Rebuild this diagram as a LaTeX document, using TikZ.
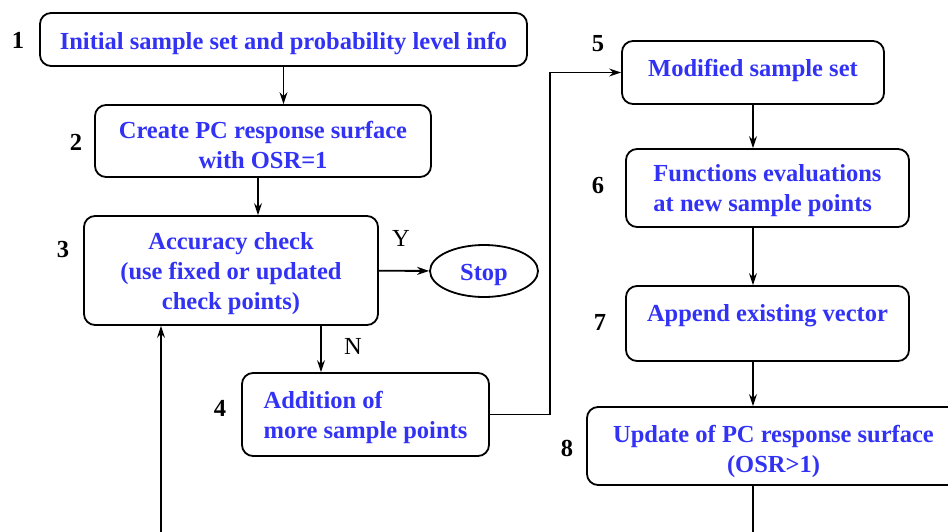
\documentclass[tikz,border=0pt]{standalone}
\usepackage{fontspec}
\setmainfont{Liberation Serif}
\usetikzlibrary{arrows.meta, shapes.geometric}
\definecolor{flowblue}{RGB}{50,50,245}

\begin{document}
\begin{tikzpicture}
    [
        x=1pt, y=-1pt, >={Stealth[length=12pt, width=8pt, inset=4pt]},
        every node/.style={font=\fontsize{24.5}{30}\selectfont},
        blue_box/.style={rectangle, rounded corners=11pt, draw=black, line width=1.8pt, inner sep=0pt, font=\fontsize{24.5}{30}\selectfont\bfseries, text=flowblue, align=center, execute at begin node={\rule{0pt}{25pt}}},
        stop_node/.style={ellipse, draw=black, line width=1.8pt, inner sep=0pt, minimum width=108, minimum height=52, font=\fontsize{24.5}{30}\selectfont\bfseries, text=flowblue, execute at begin node={\rule{0pt}{25pt}}},
        num_label/.style={font=\fontsize{24.5}{30}\selectfont\bfseries},
        flow_line/.style={line width=1.8pt, color=black},
    ]
        \useasboundingbox (0,0) rectangle (948,531);
        \clip (0,0) rectangle (948,531);
        % left column
        \node[blue_box, minimum width=487, minimum height=53] (b1) at (283.5,39.5) {Initial sample set and probability level info} ;
        \node[blue_box, text height=54pt, text depth=0pt, minimum width=336, minimum height=72] (b2) at (263,141) {Create PC response surface\\with OSR=1} ;
        \node[blue_box, text depth=0pt, minimum width=294, minimum height=109] (b3) at (231,270.5) {Accuracy check\\(use fixed or updated\\check points)} ;
        \node[stop_node] (stop) at (484,271) {Stop} ;
        \node[blue_box, align=left, text depth=0pt, minimum width=247, minimum height=83] (b4) at (365.5,414.5) {Addition of\\more sample points} ;
        % right column
        \node[blue_box, text depth=17.5pt, minimum width=262, minimum height=63] (b5) at (753,72.5) {Modified sample set} ;
        \node[blue_box, align=left, text depth=0pt, minimum width=283, minimum height=78] (b6) at (767.5,188) {Functions evaluations\\at new sample points} ;
        \node[blue_box, text depth=29pt, minimum width=283, minimum height=75] (b7) at (767.5,323.5) {Append existing vector} ;
        \node[blue_box, text height=53pt, text depth=0pt, minimum width=373, minimum height=78] (b8) at (773.5,446) {Update of PC response surface\\(OSR\textgreater1)} ;
        % step numbers
        \node[num_label] (n1) at (18,40) {1} ;
        \node[num_label] (n2) at (76,142) {2} ;
        \node[num_label] (n3) at (63,250) {3} ;
        \node[num_label] (n4) at (220,408) {4} ;
        \node[num_label] (n5) at (598,44) {5} ;
        \node[num_label] (n6) at (598,186) {6} ;
        \node[num_label] (n7) at (600,322) {7} ;
        \node[num_label] (n8) at (567,448) {8} ;
        % loose ends below the picture
        \coordinate (loop_start) at (161,560) ;
        \coordinate (loop_end) at (753,560) ;
        \draw[->, flow_line] (b1.south) -- (b1.south |- b2.north) ;
        \draw[->, flow_line] ([xshift=-5]b2.south) -- ([xshift=-5]b2.south |- b3.north) ;
        \draw[->, flow_line] (b3) -- (stop) node[pos=0.44, above=20pt] (yes) {Y} ;
        \draw[->, flow_line] ([xshift=90]b3.south) -- ([xshift=90]b3.south |- b4.north) node[pos=0.45, right=19pt] (no) {N} ;
        \draw[->, flow_line] (b4.east) -- ++(60,0) |- (b5.west) ;
        \draw[->, flow_line] (b5.south) -- (b5.south |- b6.north) ;
        \draw[->, flow_line] (b6.south -| b5.south) -- (b5.south |- b7.north) ;
        \draw[->, flow_line] (b7.south -| b5.south) -- (b5.south |- b8.north) ;
        \draw[flow_line] (b8.south -| b5.south) -- (loop_end) ;
        \draw[->, flow_line] (loop_start) -- (loop_start |- b3.south) ;
    \end{tikzpicture}
\end{document}
